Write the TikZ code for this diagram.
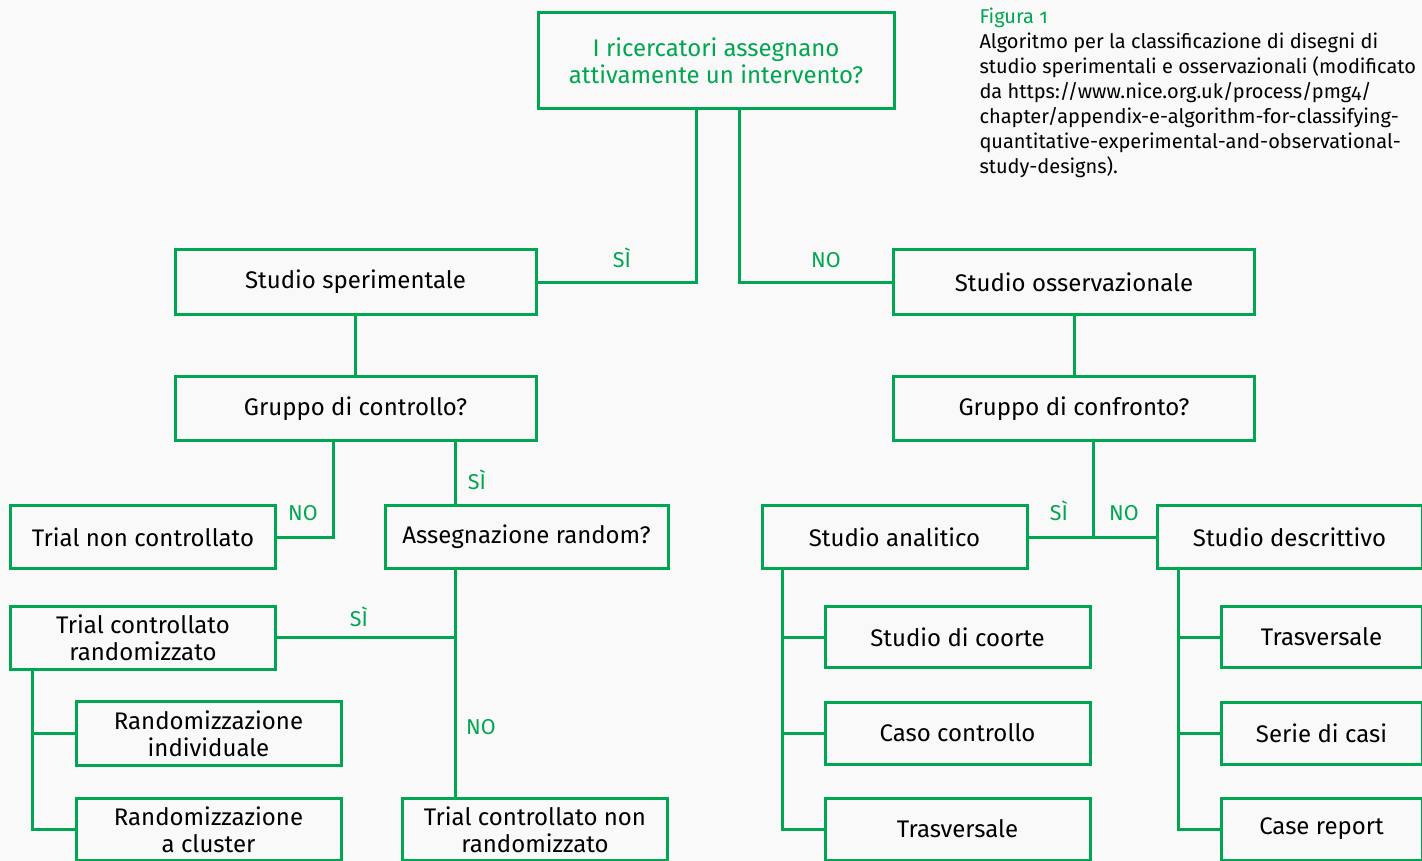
\documentclass[tikz,border=0pt]{standalone}
\usepackage{fontspec}
\setmainfont{Fira Sans}[Numbers=OldStyle]
\usetikzlibrary{positioning}
\definecolor{verde}{RGB}{0,166,81}
\definecolor{sfondo}{RGB}{249,249,249}

\begin{document}
\begin{tikzpicture}[x=1pt,y=-1pt,on grid,node distance=96pt,line width=3pt,draw=verde,
      box/.style={draw=verde,rectangle,minimum width=265pt,minimum height=63pt,inner sep=0pt,align=center,font=\fontsize{24}{27}\selectfont},
      wide/.style={box,minimum width=361pt,minimum height=64pt},
      lbl/.style={text=verde,anchor=base,inner sep=0pt,font=\fontsize{21.5}{21.5}\selectfont}]
			\fill[sfondo] (0,0) rectangle (1422,861);
			\useasboundingbox (0,0) rectangle (1422,861);
			\node[box,minimum width=356pt,minimum height=96pt,text=verde] (domanda) at (716,61) {I ricercatori assegnano\\attivamente un intervento?};
			\node[anchor=base west,align=left,inner sep=0pt,font=\fontsize{20}{25}\selectfont] (didascalia) at (978,174) {\textcolor{verde}{Figura 1}\\Algoritmo per la classificazione di disegni di\\studio sperimentali e osservazionali (modificato\\da https://www.nice.org.uk/process/pmg4/\\chapter/appendix-e-algorithm-for-classifying-\\quantitative-experimental-and-observational-\\study-designs).};
			\node[wide] (sper) at (355.5,282) {Studio sperimentale};
			\node[wide] (oss) at (1074,282) {Studio osservazionale};
			\node[wide] (gctrl) [below=126.5pt of sper] {Gruppo di controllo?};
			\node[wide] (gconf) [below=126.5pt of oss] {Gruppo di confronto?};
			\node[box] (tnc) at (143,537) {Trial non controllato};
			\node[box,minimum width=283pt] (assr) at (526.5,537) {Assegnazione random?};
			\node[box] (anal) at (894.5,537) {Studio analitico};
			\node[box] (descr) at (1289.5,537) {Studio descrittivo};
			\node[box] (tcr) at (143,637.5) {Trial controllato\\randomizzato};
			\node[box,minimum height=64pt] (rind) [below right=96pt and 65.5pt of tcr] {Randomizzazione\\individuale};
			\node[box,minimum height=62pt] (rclu) [below=96pt of rind] {Randomizzazione\\a cluster};
			\node[box,minimum height=62pt] (tcnr) at (535,829.5) {Trial controllato non\\randomizzato};
			\node[box,minimum height=61pt] (coorte) at (957.5,637) {Studio di coorte};
			\node[box,minimum height=62pt] (caso) [below=96pt of coorte] {Caso controllo};
			\node[box,minimum height=62pt] (trasv) [below=96pt of caso] {Trasversale};
			\node[box,minimum width=201pt,minimum height=61pt] (trasvd) at (1321.5,637) {Trasversale};
			\node[box,minimum width=201pt,minimum height=62pt] (serie) [below=96pt of trasvd] {Serie di casi};
			\node[box,minimum width=201pt,minimum height=62pt] (report) [below=96pt of serie] {Case report};
			\draw ([xshift=-20pt]domanda.south) |- (sper.east);
			\draw ([xshift=23pt]domanda.south) |- (oss.west);
			\draw (sper) -- (gctrl);
			\draw (oss) -- (gconf);
			\draw ([xshift=-22.5pt]gctrl.south) |- (tnc.east);
			\draw ([xshift=99.5pt]gctrl.south) -- ([xshift=99.5pt]gctrl.south |- assr.north);
			\draw ([xshift=-71.5pt]assr.south) coordinate (rv) -- (rv |- tcnr.north);
			\draw (tcr.east) -- (tcr.east -| rv);
			\draw ([xshift=-111pt]tcr.south) |- (rind.west) ([xshift=-111pt]tcr.south) |- (rclu.west);
			\draw ([xshift=19.5pt]gconf.south) |- (anal.east);
			\draw (anal) -- (descr);
			\draw ([xshift=-112.5pt]anal.south) |- (coorte.west) ([xshift=-112.5pt]anal.south) |- (caso.west) ([xshift=-112.5pt]anal.south) |- (trasv.west);
			\draw ([xshift=-111.5pt]descr.south) |- (trasvd.west) ([xshift=-111.5pt]descr.south) |- (serie.west) ([xshift=-111.5pt]descr.south) |- (report.west);
			\node[lbl] (si1) at (622,268) {SÌ};
			\node[lbl] (no1) at (826,267) {NO};
			\node[lbl] (no2) at (303,520) {NO};
			\node[lbl] (si2) at (477,489) {SÌ};
			\node[lbl] (si3) at (359,626) {SÌ};
			\node[lbl] (no3) at (481,734) {NO};
			\node[lbl] (si4) at (1059,520) {SÌ};
			\node[lbl] (no4) at (1124,520) {NO};
		\end{tikzpicture}
\end{document}
